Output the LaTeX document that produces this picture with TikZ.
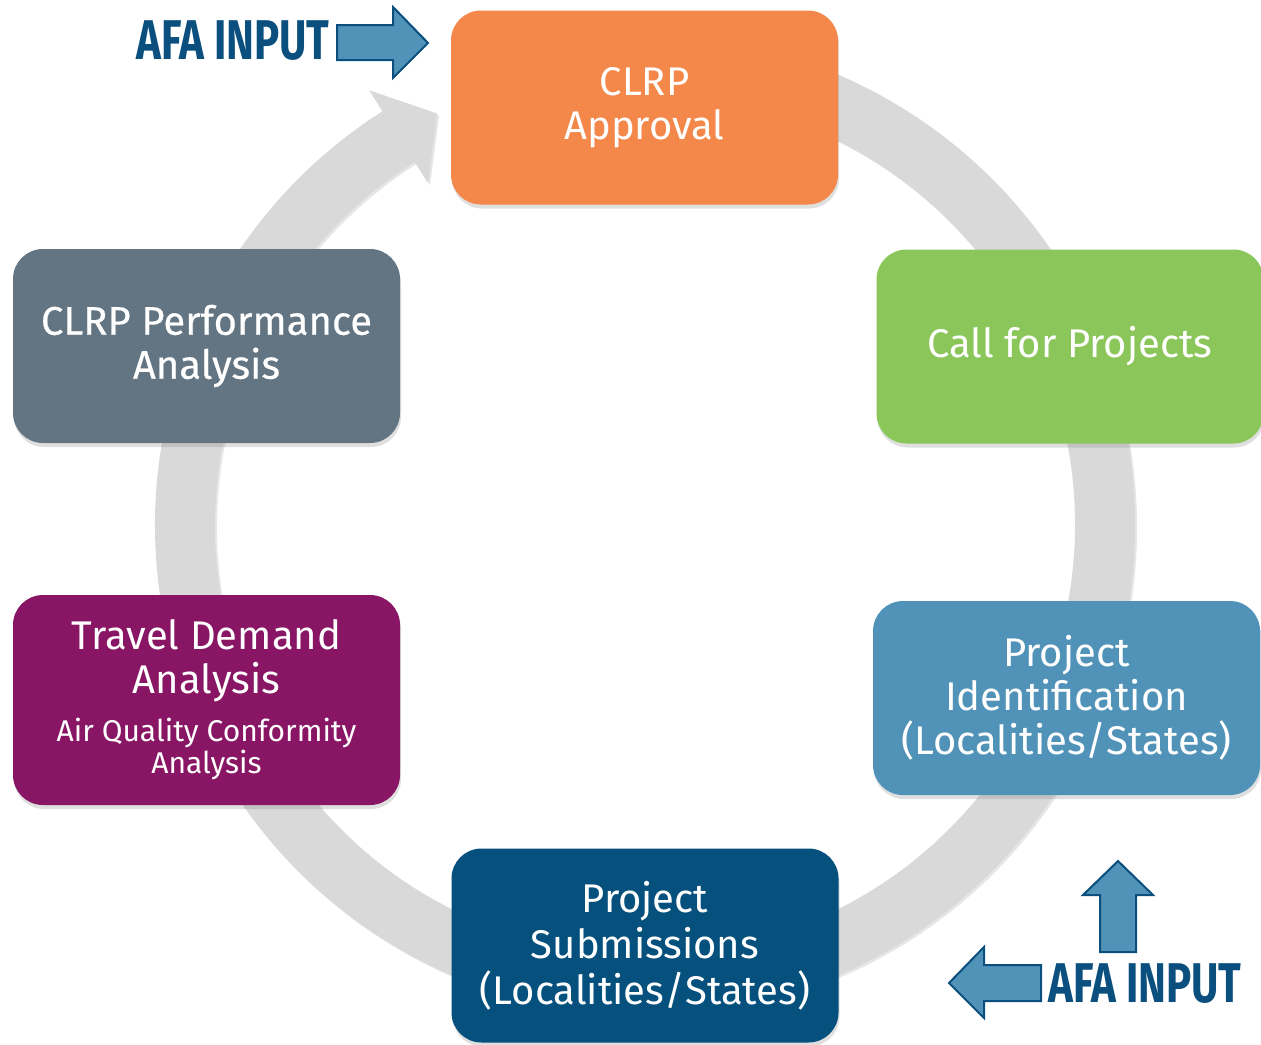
\documentclass[tikz,border=0pt]{standalone}
\usepackage{fontspec}
\setmainfont{Fira Sans}
\newfontfamily\afafont[FakeStretch=0.75]{Fira Sans}
\newfontfamily\perffont[FakeBold=0.4]{Fira Sans}
\usetikzlibrary{shadows}

\definecolor{ringgray}{RGB}{217,217,217}
\definecolor{clrporange}{RGB}{244,135,74}
\definecolor{callgreen}{RGB}{139,198,90}
\definecolor{identblue}{RGB}{81,147,184}
\definecolor{submitnavy}{RGB}{5,80,125}
\definecolor{tdapurple}{RGB}{136,22,101}
\definecolor{perfslate}{RGB}{99,117,130}
\definecolor{afablue}{RGB}{10,79,126}

\tikzset{
  stage/.style={rounded corners=15pt, minimum width=193.5pt, minimum height=97pt,
    text=white, align=center, font=\fontsize{20}{22}\selectfont,
    drop shadow={opacity=.25, shadow xshift=.5pt, shadow yshift=-2pt}},
  afa/.style={font=\afafont\bfseries\fontsize{28}{30}\selectfont, text=afablue},
  blockarrow/.style={fill=identblue, draw=afablue, line width=1pt, line join=miter},
}

\begin{document}
\begin{tikzpicture}[x=0.5pt,y=-0.5pt]
  \useasboundingbox (0,0) rectangle (1261,1044);

  % the grey cycle with its head
  \begin{scope}[shift={(645,525)}]
    \fill[ringgray, drop shadow={opacity=.2, shadow xshift=1pt, shadow yshift=-1pt}]
      (-104:490) arc[start angle=-104, end angle=237.6, radius=490]
      -- (237.6:515) -- (243.2:461) -- (237.6:405) -- (237.6:430)
      arc[start angle=237.6, end angle=-104, radius=430] -- cycle;
  \end{scope}

  \node[stage, fill=clrporange] (approval) at (644.5,107.5) {CLRP\\Approval};
  \node[stage, fill=callgreen] (call) at (1070,346.5) {Call for Projects};
  \node[stage, fill=identblue] (ident) at (1066.5,698) {Project\\Identification\\(Localities/States)};
  \node[stage, fill=submitnavy] (submit) at (645,945.5) {Project\\[1pt]Submissions\\[1pt](Localities/States)};
  \node[stage, fill=tdapurple, minimum height=105pt] (travel) at (206.5,700)
    {Travel Demand\\Analysis\\[2pt]{\fontsize{15}{16.5}\selectfont Air Quality Conformity}\\[-6pt]{\fontsize{15}{16.5}\selectfont Analysis}};
  \node[stage, fill=perfslate, font=\perffont\fontsize{20}{22}\selectfont] (perf) at (206.5,346) {CLRP Performance\\Analysis};

  % AFA input markers
  \node[afa] (inputtop) at (233,41) {AFA INPUT};
  \draw[blockarrow] (337,25) -- (393,25) -- (393,7) -- (428,43) -- (393,78) -- (393,60) -- (337,60) -- cycle;

  \node[afa] (inputbot) at (1145,984) {AFA INPUT};
  \draw[blockarrow] (1100,952) -- (1100,895) -- (1083,895) -- (1118,861) -- (1153,895) -- (1136,895) -- (1136,952) -- cycle;
  \draw[blockarrow] (1041,965) -- (984,965) -- (984,947) -- (949,983) -- (984,1018) -- (984,1001) -- (1041,1001) -- cycle;
\end{tikzpicture}
\end{document}
